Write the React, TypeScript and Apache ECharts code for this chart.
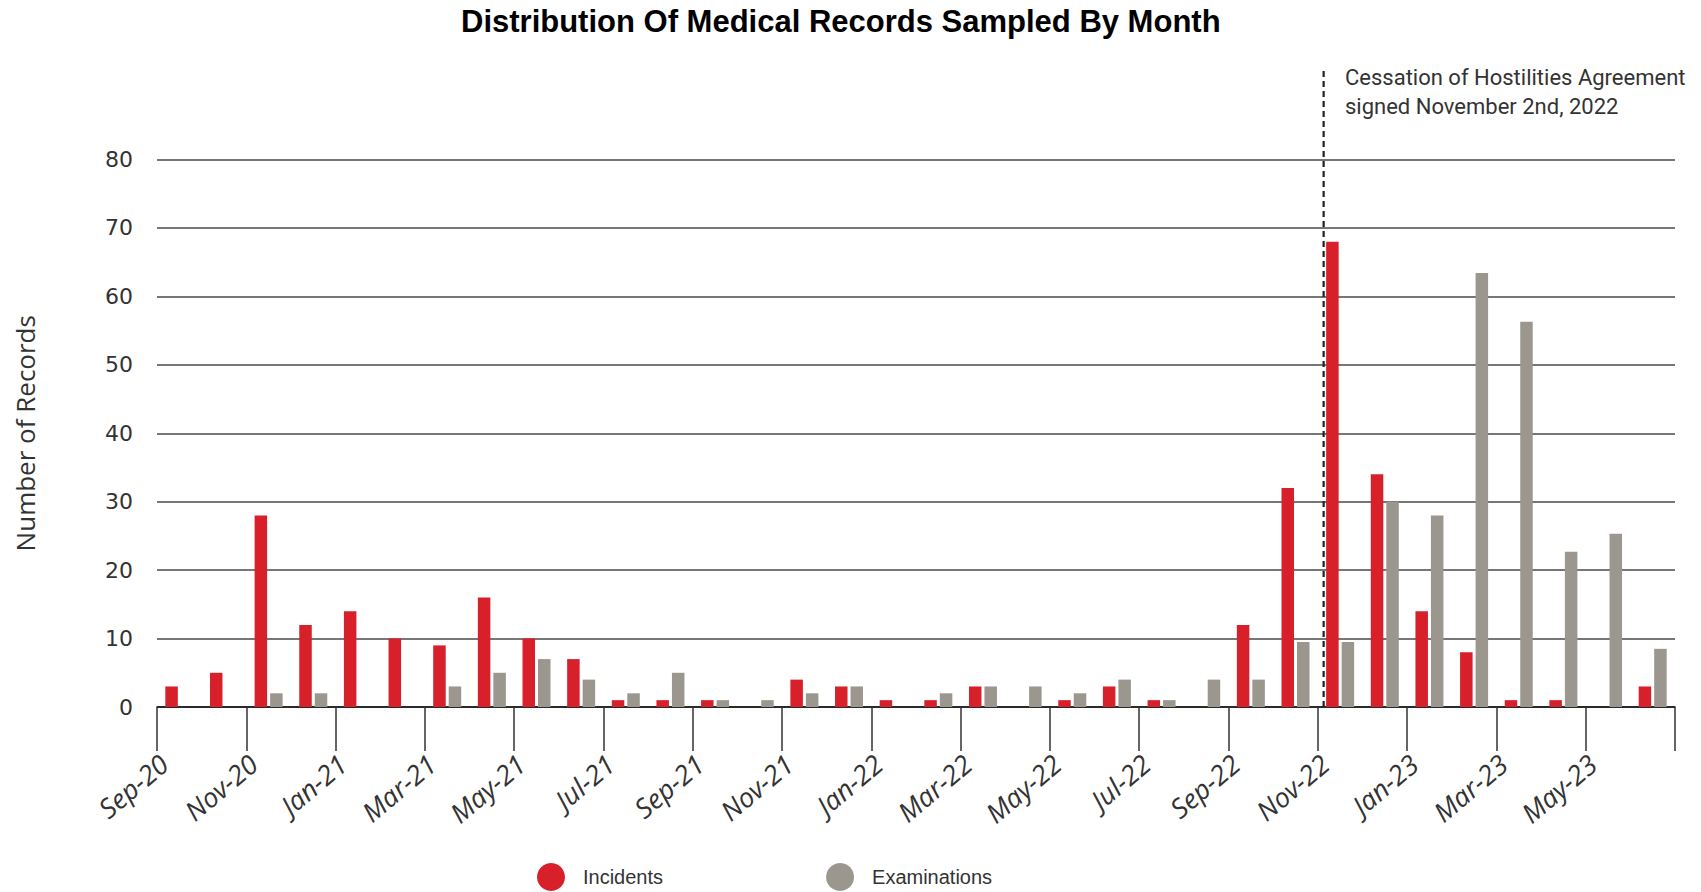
import React, { useEffect, useRef } from "react";
import * as echarts from "echarts";

const months = [
  "Sep-20", "Oct-20", "Nov-20", "Dec-20", "Jan-21", "Feb-21", "Mar-21", "Apr-21", "May-21", "Jun-21",
  "Jul-21", "Aug-21", "Sep-21", "Oct-21", "Nov-21", "Dec-21", "Jan-22", "Feb-22", "Mar-22", "Apr-22",
  "May-22", "Jun-22", "Jul-22", "Aug-22", "Sep-22", "Oct-22", "Nov-22", "Dec-22", "Jan-23", "Feb-23",
  "Mar-23", "Apr-23", "May-23", "Jun-23",
];
const incidents = [3, 5, 28, 12, 14, 10, 9, 16, 10, 7, 1, 1, 1, 0, 4, 3, 1, 1, 3, 0, 1, 3, 1, 0, 12, 32, 68, 34, 14, 8, 1, 1, 0, 3];
const examinations = [0, 0, 2, 2, 0, 0, 3, 5, 7, 4, 2, 5, 1, 1, 2, 3, 0, 2, 3, 3, 2, 4, 1, 4, 4, 9.5, 9.5, 30, 28, 63.4, 56.3, 22.7, 25.3, 8.5];
const seriesNames = ["Incidents", "Examinations"];
const yMin = 0;
const yMax = 80;
const yInterval = 10;
// Agreement date, as a position in months from the start of Sep-20 (Nov 2nd, 2022)
const agreementPosition = 26.13;
const agreementLineTop = 93;
const annotationLines = ["Cessation of Hostilities Agreement", "signed November 2nd, 2022"];
const titleText = "Distribution Of Medical Records Sampled By Month";
const yAxisTitle = "Number of Records";

export default function App() {
  const ref = useRef<HTMLDivElement>(null);
  useEffect(() => {
    if (!ref.current) return;
    const chart = echarts.init(ref.current, undefined, { renderer: "svg" });
    chart.setOption({
      animation: false,
      backgroundColor: "#ffffff",
      title: {
        text: titleText,
        left: 461,
        top: 6,
        padding: 0,
        textStyle: { fontFamily: "'Liberation Sans', sans-serif", fontWeight: "bold", fontSize: 31, color: "#000" },
      },
      legend: {
        data: seriesNames,
        left: 537,
        top: 863,
        padding: 0,
        icon: "circle",
        itemWidth: 28,
        itemHeight: 28,
        itemGap: 163,
        textStyle: { fontFamily: "'Liberation Sans', sans-serif", fontSize: 20, color: "#333", padding: [0, 0, 0, 13] },
      },
      grid: { left: 157, right: 26, top: 159.5, bottom: 185, containLabel: false },
      xAxis: [
        {
          type: "category",
          data: months,
          axisLine: { show: true, lineStyle: { color: "#111", width: 1.5 } },
          axisTick: { show: true, interval: 1, length: 44, lineStyle: { color: "#333", width: 1.5 } },
          axisLabel: {
            show: true,
            interval: 1,
            rotate: 40,
            margin: 40,
            padding: [0, 20, 0, 0],
            fontFamily: "'Open Sans', sans-serif",
            fontStyle: "italic",
            fontSize: 27,
            color: "#333",
          },
        },
        { type: "value", min: 0, max: months.length, show: false },
      ],
      yAxis: {
        type: "value",
        min: yMin,
        max: yMax,
        interval: yInterval,
        name: yAxisTitle,
        nameLocation: "middle",
        nameGap: 119,
        nameTextStyle: { fontFamily: "'Open Sans', sans-serif", fontSize: 26, color: "#333" },
        axisLine: { show: false },
        axisTick: { show: false },
        splitLine: { lineStyle: { color: "#4a4a4a", width: 1.7 } },
        axisLabel: { margin: 24, fontFamily: "'DejaVu Sans', sans-serif", fontSize: 22, color: "#333" },
      },
      series: [
        {
          name: seriesNames[0],
          type: "bar",
          data: incidents,
          barWidth: 12.5,
          barGap: "24%",
          itemStyle: { color: "#D7202A" },
        },
        {
          name: seriesNames[1],
          type: "bar",
          data: examinations,
          barWidth: 12.5,
          barGap: "24%",
          itemStyle: { color: "#9B968E" },
        },
        {
          name: "Agreement",
          type: "line",
          xAxisIndex: 1,
          data: [
            [agreementPosition, yMin],
            [agreementPosition, agreementLineTop],
          ],
          clip: false,
          symbol: "none",
          silent: true,
          lineStyle: { color: "#222", width: 2.2, type: [6, 4] },
        },
      ],
      graphic: [
        {
          type: "text",
          left: 1345,
          top: 63,
          style: {
            text: annotationLines.join("\n"),
            fontFamily: "Roboto, sans-serif",
            fontSize: 22,
            lineHeight: 29,
            fill: "#333",
          },
        },
      ],
    });
    return () => chart.dispose();
  }, []);
  return (
    <div
      ref={ref}
      style={{ position: "fixed", left: 0, top: 0, width: 1701, height: 892 }}
    />
  );
}
